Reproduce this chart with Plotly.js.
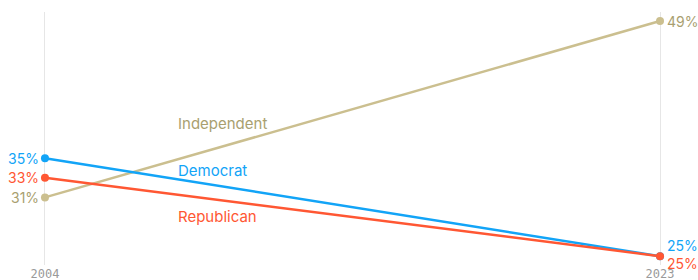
<!DOCTYPE html>
<html>
<head>
<meta charset="utf-8">
<script src="https://cdn.plot.ly/plotly-3.0.1.min.js"></script>
<style>html,body{margin:0;padding:0;background:#fff;}#chart{width:698px;height:280px;}</style>
</head>
<body>
<div id="chart"></div>
<script>
const years = [2004, 2023];
const seriesNames = ["Independent", "Democrat", "Republican"];
const independent = [31, 49];
const democrat = [35, 25];
const republican = [33, 25];
const tickLabels = ["2004", "2023"];

const colors = {Independent: "#cbbf8f", Democrat: "#12a4f7", Republican: "#ff5733"};
const labelColors = {Independent: "#a99f70", Democrat: "#12a4f7", Republican: "#ff5733"};
const values = {Independent: independent, Democrat: democrat, Republican: republican};
// name label anchor (year, value) for series labels
const labelPos = {Independent: [2008.06, 38.5], Democrat: [2008.06, 33.7], Republican: [2008.06, 29.0]};
const traces = seriesNames.map(n => ({
  x: years, y: values[n], type: "scatter", mode: "lines+markers",
  line: {color: colors[n], width: 2.5},
  marker: {color: colors[n], size: 8},
  hoverinfo: "skip", showlegend: false
}));

const font = "Inter, 'Liberation Sans', sans-serif";
const annotations = [];
seriesNames.forEach(n => {
  const v = values[n];
  annotations.push({x: years[0], y: v[0], text: v[0] + "%", showarrow: false,
    xanchor: "right", yanchor: "middle", xshift: -4,
    font: {family: font, size: 14, color: labelColors[n]}});
  let ys = 0;
  if (n === "Democrat") ys = 11;
  if (n === "Republican") ys = -7;
  annotations.push({x: years[1], y: v[1], text: v[1] + "%", showarrow: false,
    xanchor: "left", yanchor: "middle", xshift: 5, yshift: ys,
    font: {family: font, size: 14, color: labelColors[n]}});
  annotations.push({x: labelPos[n][0], y: labelPos[n][1], text: n, showarrow: false,
    xanchor: "left", yanchor: "middle",
    font: {family: font, size: 15, color: labelColors[n]}});
});

const layout = {
  width: 698, height: 280,
  margin: {l: 40, r: 33, t: 12, b: 15, pad: 0},
  paper_bgcolor: "#fff", plot_bgcolor: "#fff",
  xaxis: {range: [2003.846, 2023.154], tickvals: years, ticktext: tickLabels,
    showgrid: true, gridcolor: "#e6e6e6", gridwidth: 1, zeroline: false, showline: false,
    ticks: "", ticklen: 0, tickfont: {family: "'DejaVu Sans Mono', monospace", size: 12, color: "#9a9a9a"},
    fixedrange: true},
  yaxis: {range: [24.1, 49.92], showgrid: false, zeroline: false, showline: false,
    showticklabels: false, ticks: "", fixedrange: true},
  annotations: annotations,
  showlegend: false
};
Plotly.newPlot("chart", traces, layout, {displayModeBar: false, staticPlot: true});
</script>
</body>
</html>
